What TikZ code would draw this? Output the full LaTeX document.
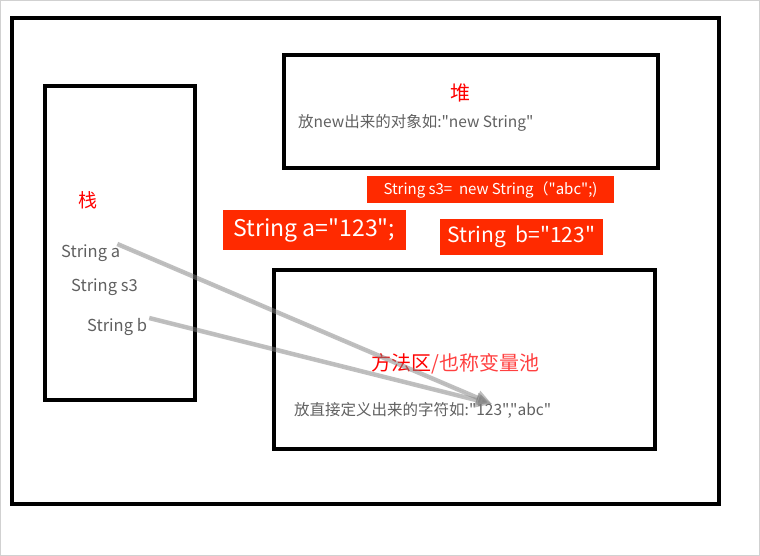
\documentclass[tikz,border=0pt]{standalone}
\usepackage{fontspec}
\setmainfont{Noto Sans CJK SC}[Ligatures=TeXOff]
\usetikzlibrary{arrows.meta, positioning}
\definecolor{tagred}{HTML}{FF2A00}
\definecolor{txtgray}{HTML}{606060}
\tikzstyle{area} = [rectangle, draw=black, line width=4pt, inner sep=0pt]
\tikzstyle{tag} = [rectangle, fill=tagred, text=white, inner sep=0pt, align=center]
\tikzstyle{note} = [text=txtgray, inner sep=0pt, anchor=west]
\tikzstyle{title} = [text=red, inner sep=0pt]
\tikzstyle{ref} = [-{Triangle[length=16pt, width=14pt]}, draw=black!50, fill=black!50, opacity=0.5, line width=4.5pt]
\newcommand{\fs}[1]{\fontsize{#1}{#1}\selectfont}

\begin{document}
\begin{tikzpicture}[x=1pt, y=-1pt]
				
				% canvas and frame
				\useasboundingbox (0,0) rectangle (760,556);
				\draw[draw=black!18, line width=1pt] (0.5,0.5) rectangle (759.5,555.5);
				
				\node[area, minimum width=707pt, minimum height=486pt] (outer) at (365.5,261) {};
				\node[area, minimum width=150pt, minimum height=314pt] (stack) at (120,243) {};
				\node[area, minimum width=374pt, minimum height=113pt] (heap) at (471,111.5) {};
				\node[area, minimum width=381pt, minimum height=179pt] (pool) at (464.5,359.5) {};
				
				% heap
				\node[title, font=\fs{20}] (heaptitle) at (460,93) {堆};
				\node[note, font=\fs{15.5}] (heaptext) at (298,123) {放new出来的对象如:"new String"};
				
				% stack
				\node[title, font=\fs{19}] (stacktitle) at (88,200) {栈};
				\node[note, font=\fs{16.5}] (vara) at (61,253) {String a};
				\node[note, font=\fs{16.5}] (vars) at (71,287) {String s3};
				\node[note, font=\fs{16.5}] (varb) at (87,327) {String b};
				
				% method area
				\node[title, font=\fs{20}, anchor=west] (pooltitle) at (371,364) {方法区\textcolor{red!75}{/也称变量池}};
				\node[note, font=\fs{15.5}] (pooltext) at (294,410) {放直接定义出来的字符如:"123","abc"};
				
				% code tags
				\node[tag, minimum width=247pt, minimum height=27pt, font=\fs{15}] (tags) at (490.5,189.5) {String s3=\ \ new String（"abc";)};
				\node[tag, minimum width=183pt, minimum height=40pt, font=\fs{23}] (taga) at (314.5,230) {String a="123";};
				\node[tag, minimum width=163pt, minimum height=36pt, font=\fs{21}] (tagb) at (521.5,237) {String\ \ b="123"};
				
				% Edges
				\coordinate (hit) at (492,404);
				\draw[ref] ([xshift=-3pt, yshift=9pt]vara.east) -- (hit);
				\draw[ref] ([xshift=2pt, yshift=9pt]varb.east) -- (hit);
				
			\end{tikzpicture}
\end{document}
